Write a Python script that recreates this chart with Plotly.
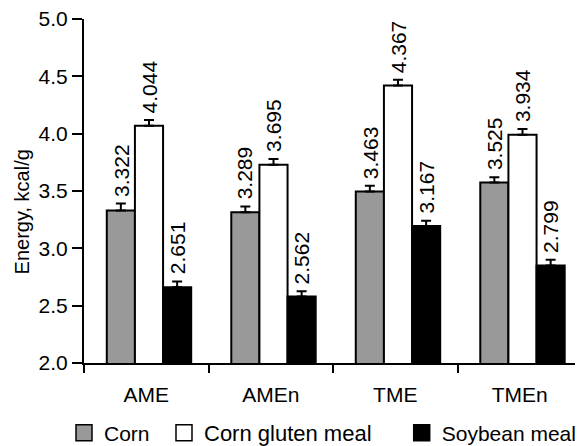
import plotly.graph_objects as go

categories = ["AME", "AMEn", "TME", "TMEn"]
series_names = ["Corn", "Corn gluten meal", "Soybean meal"]
# bar heights as drawn in the picture
corn_vals = [3.33, 3.315, 3.495, 3.575]
cgm_vals = [4.07, 3.73, 4.42, 3.99]
sbm_vals = [2.66, 2.58, 3.195, 2.85]
# error bar (upper) sizes
corn_err = [0.06, 0.05, 0.05, 0.045]
cgm_err = [0.05, 0.05, 0.05, 0.05]
sbm_err = [0.05, 0.045, 0.045, 0.05]
# printed value labels
corn_labels = ["3.322", "3.289", "3.463", "3.525"]
cgm_labels = ["4.044", "3.695", "4.367", "3.934"]
sbm_labels = ["2.651", "2.562", "3.167", "2.799"]
y_ticks = [2.0, 2.5, 3.0, 3.5, 4.0, 4.5, 5.0]

colors = ["#999999", "#ffffff", "#000000"]
FONT = "Liberation Sans, Arial, sans-serif"
W = 0.226
offsets = [-0.317, -0.091, 0.135]

vals = [corn_vals, cgm_vals, sbm_vals]
errs = [corn_err, cgm_err, sbm_err]
labels = [corn_labels, cgm_labels, sbm_labels]

fig = go.Figure()
for k in range(3):
    fig.add_trace(go.Bar(
        x=categories, y=vals[k], name=series_names[k],
        width=W, offset=offsets[k],
        marker=dict(color=colors[k], line=dict(color="black", width=2)),
        error_y=dict(type="data", array=errs[k], arrayminus=[0]*4, symmetric=False,
                     color="black", thickness=2, width=5),
        showlegend=False,
    ))

legend_names = ["legend", "legend2", "legend3"]
for k in range(3):
    fig.add_trace(go.Scatter(
        x=[None], y=[None], mode="markers", name=series_names[k],
        marker=dict(symbol="square", size=18, color=colors[k],
                    line=dict(color="black", width=1.5)),
        showlegend=True, legend=legend_names[k],
    ))

annotations = []
for k in range(3):
    for i in range(len(categories)):
        annotations.append(dict(
            x=i + offsets[k] + W / 2, y=vals[k][i] + errs[k][i],
            xref="x", yref="y", text=labels[k][i], showarrow=False,
            textangle=-90, yanchor="bottom", xanchor="center", yshift=5,
            font=dict(family=FONT, size=21, color="black"),
        ))
annotations.append(dict(
    x=-0.1245, y=0.4406, xref="paper", yref="paper", text="Energy, kcal/g",
    showarrow=False, textangle=-90, xanchor="center", yanchor="middle",
    font=dict(family=FONT, size=20, color="black"),
))

legend_common = dict(orientation="h", yanchor="middle", y=0.0297, xanchor="left",
                     xref="container", yref="container",
                     bgcolor="rgba(0,0,0,0)", itemsizing="trace")
lx = [0.0974, 0.2713, 0.6847]
lfont = [21, 22, 21]

# page body has an 8px margin, so the figure is 8px smaller on each axis
fig.update_layout(
    width=575, height=438,
    margin=dict(l=76, r=1, t=11, b=83, autoexpand=False),
    paper_bgcolor="white", plot_bgcolor="white",
    barmode="overlay",
    annotations=annotations,
    legend=dict(x=lx[0], font=dict(family=FONT, size=lfont[0], color="black"), **legend_common),
    legend2=dict(x=lx[1], font=dict(family=FONT, size=lfont[1], color="black"), **legend_common),
    legend3=dict(x=lx[2], font=dict(family=FONT, size=lfont[2], color="black"), **legend_common),
    xaxis=dict(
        type="category", categoryorder="array", categoryarray=categories,
        range=[-0.5, 3.5], tickson="boundaries", ticks="outside", ticklen=8,
        tickwidth=2, tickcolor="black", showline=True, linecolor="black",
        linewidth=2, showgrid=False, zeroline=False, ticklabelstandoff=12,
        ticklabeloverflow="allow",
        tickfont=dict(family=FONT, size=21, color="black"),
    ),
    yaxis=dict(
        range=[2, 5], tickvals=y_ticks, ticktext=[f"{v:.1f}" for v in y_ticks],
        ticks="outside", ticklen=10, tickwidth=2, tickcolor="black",
        showline=True, linecolor="black", linewidth=2, showgrid=False,
        zeroline=False, ticklabeloverflow="allow",
        tickfont=dict(family=FONT, size=21, color="black"),
    ),
)

fig.write_html("out.html")
